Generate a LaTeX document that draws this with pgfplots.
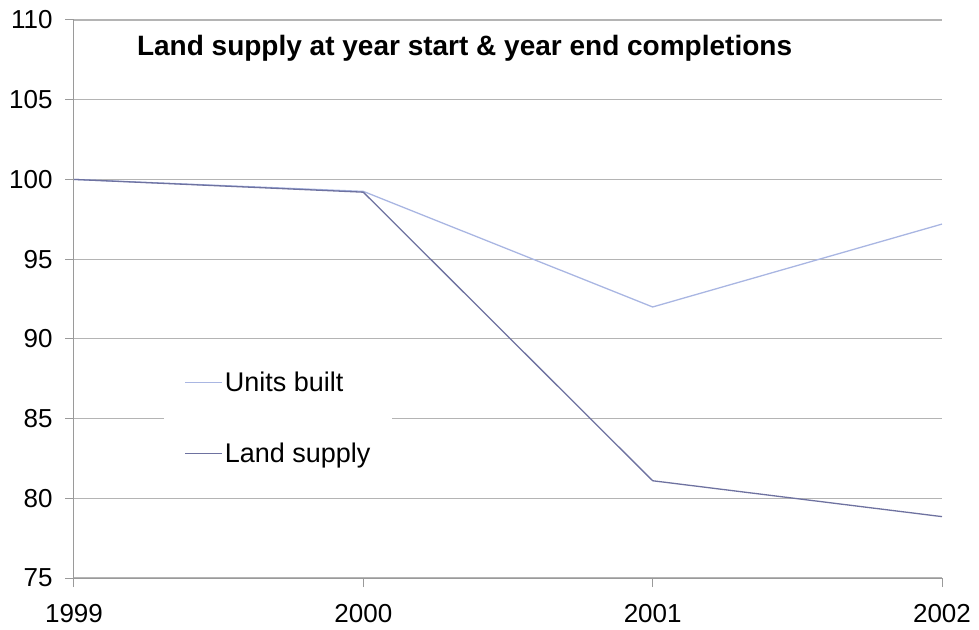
\documentclass[border=0pt]{standalone}
\usepackage{pgfplots}
\pgfplotsset{compat=1.18}
\usepackage{fontspec}
\setmainfont{Liberation Sans}
\definecolor{units}{HTML}{A9B6E2}
\definecolor{land}{HTML}{6E72A0}
\definecolor{gridc}{HTML}{B4B4B4}
\definecolor{axc}{HTML}{9A9A9A}
\newcommand{\tl}[1]{\fontsize{26bp}{30bp}\selectfont #1}
\begin{document}
\begin{tikzpicture}
\useasboundingbox (-74bp,-52bp) rectangle (905bp,578bp);
\begin{axis}[
  scale only axis,
  width=868bp, height=558bp,
  xmin=1999, xmax=2002, ymin=75, ymax=110,
  xtick={1999,2000,2001,2002},
  xticklabels={\tl{1999},\tl{2000},\tl{2001},\tl{2002}},
  ytick={75,80,85,90,95,100,105,110},
  yticklabels={\tl{75},\tl{80},\tl{85},\tl{90},\tl{95},\tl{100},\tl{105},\tl{110}},
  xticklabel style={text=black, yshift=-14bp},
  yticklabel style={text=black, xshift=-9bp},
  axis x line=bottom, axis y line=left,
  axis line style={-, axc, line width=1bp},
  tick style={axc, line width=1bp},
  major tick length=9bp,
  tick align=outside,
  ymajorgrids, grid style={gridc, line width=1.2bp},
  legend style={at={(0.104,0.388)}, anchor=north west, draw=none, fill=white,
    font=\fontsize{27bp}{30bp}\selectfont, row sep=46bp, inner xsep=20bp, inner ysep=8bp},
  legend cell align=left,
  legend image code/.code={\draw[#1] (0bp,0bp) -- (37bp,0bp);},
  clip=false,
]
\addplot[units, line width=1.3bp] coordinates {(1999,100) (2000,99.25) (2001,92.0) (2002,97.2)};
\addlegendentry{Units built}
\addplot[land, line width=1.3bp] coordinates {(1999,100) (2000,99.2) (2001,81.1) (2002,78.85)};
\addlegendentry{Land supply}
\node[font=\bfseries\fontsize{28bp}{31bp}\selectfont] at (rel axis cs:0.45,0.95) {Land supply at year start \& year end completions};
\end{axis}
\end{tikzpicture}
\end{document}
